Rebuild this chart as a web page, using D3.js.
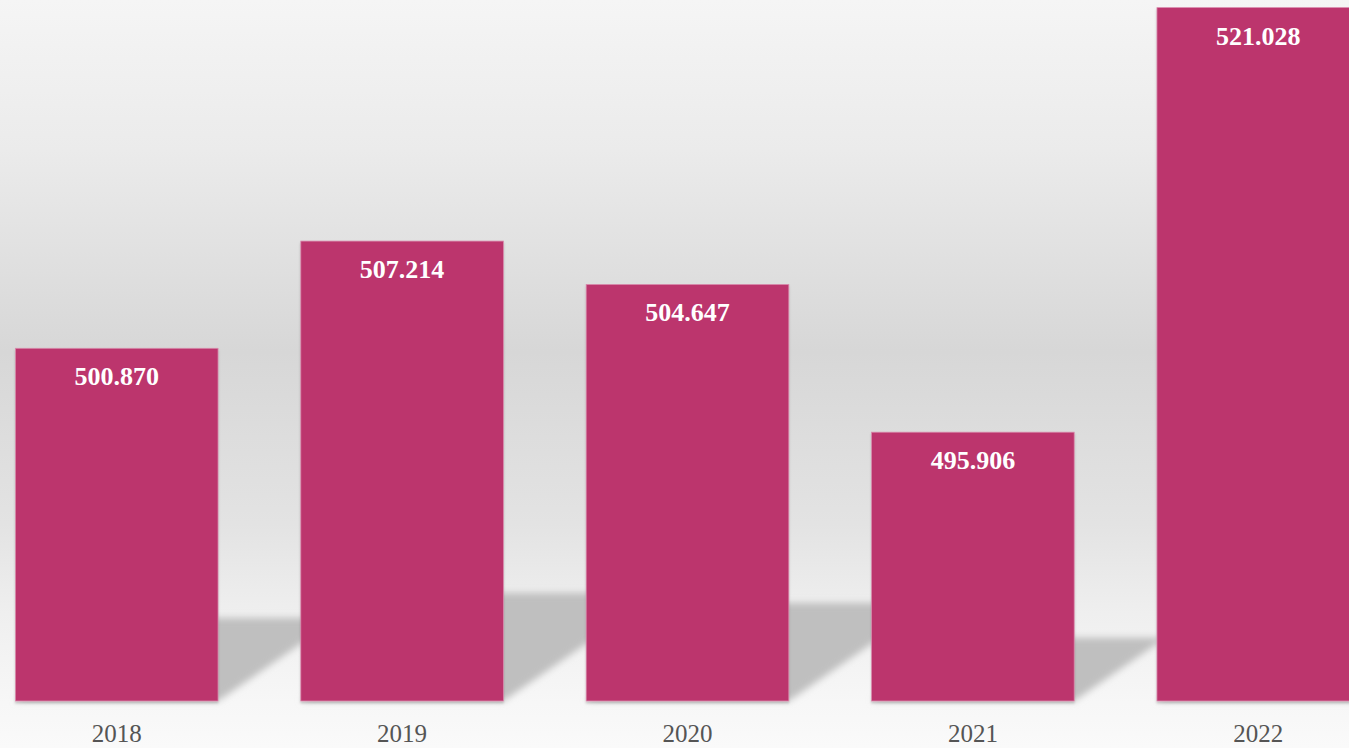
<!DOCTYPE html>
<html>
<head>
<meta charset="utf-8">
<script src="https://cdn.jsdelivr.net/npm/d3@7"></script>
<style>
  html, body { margin: 0; padding: 0; overflow: hidden; background: #fafafa; }
</style>
</head>
<body>
<div id="chart"></div>
<script>
/**
 * CONSTANTS AND GLOBALS
 * */
const width = 1349,
  height = 748,
  baseline = 701;

const years = ["2018", "2019", "2020", "2021", "2022"];
const values = [500.870, 507.214, 504.647, 495.906, 521.028];
const valueLabels = ["500.870", "507.214", "504.647", "495.906", "521.028"];

const barColor = "#bc356d";

const svg = d3.select("#chart")
  .append("svg")
  .attr("width", width)
  .attr("height", height);

const defs = svg.append("defs");

// background gradient (wall fading to floor)
const bg = defs.append("linearGradient")
  .attr("id", "bg")
  .attr("x1", 0).attr("y1", 0).attr("x2", 0).attr("y2", 1);
bg.selectAll("stop")
  .data([
    { o: 0, c: "#f5f5f5" },
    { o: 0.2, c: "#ebebeb" },
    { o: 0.47, c: "#d7d7d7" },
    { o: 0.7, c: "#e3e3e3" },
    { o: 0.82, c: "#efefef" },
    { o: 0.94, c: "#f7f7f7" },
    { o: 1, c: "#fafafa" }
  ])
  .join("stop")
  .attr("offset", d => d.o)
  .attr("stop-color", d => d.c);

defs.append("filter")
  .attr("id", "blur")
  .attr("x", "-20%").attr("y", "-20%").attr("width", "140%").attr("height", "140%")
  .append("feGaussianBlur")
  .attr("stdDeviation", 3.5);

const drop = defs.append("filter").attr("id", "drop")
  .attr("x", "-5%").attr("y", "-5%").attr("width", "110%").attr("height", "110%");
drop.append("feDropShadow")
  .attr("dx", 0).attr("dy", 2)
  .attr("stdDeviation", 1.2)
  .attr("flood-color", "#000")
  .attr("flood-opacity", 0.18);

svg.append("rect")
  .attr("width", width)
  .attr("height", height)
  .attr("fill", "url(#bg)");

// SCALES
const xScale = d3.scaleBand()
  .domain(years)
  .range([0, 1375])
  .paddingInner(0.29)
  .paddingOuter(0.054);

const yScale = d3.scaleLinear()
  .domain([480, 522])
  .range([baseline, baseline - 42 * 16.9]);

const data = years.map((y, i) => ({ year: y, value: values[i], label: valueLabels[i] }));

// floor shadows, skewed to the right
svg.append("g")
  .attr("filter", "url(#blur)")
  .selectAll("path")
  .data(data)
  .join("path")
  .attr("fill", "#bfbfbf")
  .attr("d", d => {
    const x0 = xScale(d.year),
      x1 = x0 + xScale.bandwidth(),
      h = yScale(480) - yScale(d.value),
      s = h * 0.34,
      v = h * 0.235;
    return `M${x0},${baseline}L${x1},${baseline}L${x1 + s},${baseline - v}L${x0 + s},${baseline - v}Z`;
  });

// bars
svg.append("g")
  .selectAll("rect")
  .data(data)
  .join("rect")
  .attr("x", d => xScale(d.year))
  .attr("y", d => yScale(d.value))
  .attr("width", xScale.bandwidth())
  .attr("height", d => yScale(480) - yScale(d.value))
  .attr("fill", barColor)
  .attr("stroke", "#d98aac")
  .attr("stroke-width", 0.8)
  .attr("filter", "url(#drop)");

// value labels
svg.append("g")
  .selectAll("text")
  .data(data)
  .join("text")
  .attr("x", d => xScale(d.year) + xScale.bandwidth() / 2)
  .attr("y", d => yScale(d.value) + 37)
  .attr("text-anchor", "middle")
  .attr("fill", "#ffffff")
  .attr("font-family", "'Liberation Serif', 'DejaVu Serif', serif")
  .attr("font-weight", "bold")
  .attr("font-size", "26px")
  .text(d => d.label);

// year labels
svg.append("g")
  .selectAll("text")
  .data(data)
  .join("text")
  .attr("x", d => xScale(d.year) + xScale.bandwidth() / 2)
  .attr("y", 742)
  .attr("text-anchor", "middle")
  .attr("fill", "#555555")
  .attr("font-family", "'Liberation Serif', 'DejaVu Serif', serif")
  .attr("font-size", "25px")
  .text(d => d.year);
</script>
</body>
</html>
